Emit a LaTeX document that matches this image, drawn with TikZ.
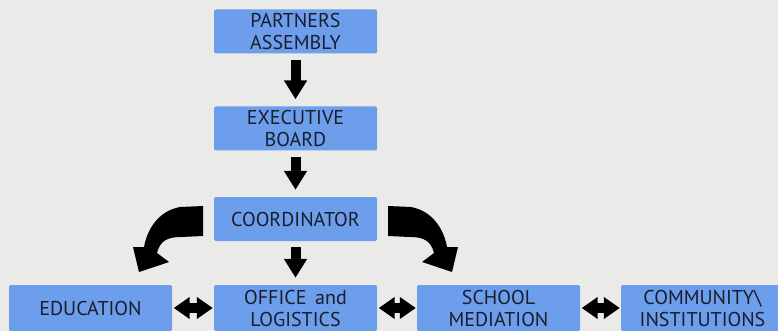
\documentclass[tikz,border=0pt]{standalone}
\usepackage{fontspec}
\setmainfont{PT Sans}
\usetikzlibrary{arrows.meta}
\definecolor{paper}{HTML}{EAEAE8}
\definecolor{boxblue}{HTML}{6D9EEB}
\definecolor{ink}{HTML}{1A1D2E}
\tikzset{
  orgbox/.style={fill=boxblue, rounded corners=1.5pt, minimum width=163pt, minimum height=44pt,
    inner sep=0pt, align=center, text=ink, font=\fontsize{20}{22}\selectfont},
  lowbox/.style={orgbox, minimum height=46pt},
  downarrow/.style={draw=black, line width=10pt, -{Triangle[length=19pt,width=22pt]}, shorten <=6pt, shorten >=7pt},
  curvearrow/.style={fill=black},
  twoway/.style={draw=black, line width=10pt, {Triangle[length=16pt,width=21pt]}-{Triangle[length=16pt,width=21pt]}, shorten <=1.5pt, shorten >=1pt},
  twowaycore/.style={draw=black, line width=10pt, shorten <=12pt, shorten >=12pt}
}
\begin{document}
\begin{tikzpicture}[x=1pt,y=-1pt]
\clip (0,0) rectangle (778,331);
\fill[paper] (0,0) rectangle (778,331);
\node[orgbox] (pa) at (295.5,31.5) {PARTNERS\\ASSEMBLY};
\node[orgbox] (eb) at (295.5,128.5) {EXECUTIVE\\BOARD};
\node[orgbox] (co) at (295.5,219) {COORDINATOR};
\node[lowbox] (ed) at (90.5,308) {EDUCATION};
\node[lowbox] (of) at (295.5,308) {OFFICE\, and\\LOGISTICS};
\node[lowbox] (sm) at (498.5,308) {SCHOOL\\MEDIATION};
\node[lowbox] (ci) at (702.5,308) {COMMUNITY\textbackslash\\INSTITUTIONS};
\draw[downarrow] (pa) -- (eb);
\draw[downarrow] (eb) -- (co);
\draw[downarrow] (co) -- (of);
% curved arrows from the coordinator level down to the side branches
\fill[curvearrow] (388,206) -- (411,207) .. controls (433,211) and (444,230) .. (447,247)
  -- (458,247) -- (452,272) -- (422,262) -- (434,253)
  .. controls (431,241) and (424,237) .. (410,237) -- (388,236) -- cycle;
\fill[curvearrow] (203,206) -- (180,207) .. controls (158,211) and (147,230) .. (144,247)
  -- (133,247) -- (139,272) -- (169,262) -- (157,253)
  .. controls (160,241) and (167,237) .. (181,237) -- (203,236) -- cycle;
\draw[twoway] (ed) -- (of);
\draw[twowaycore] (ed) -- (of);
\draw[twoway] (of) -- (sm);
\draw[twowaycore] (of) -- (sm);
\draw[twoway] (sm) -- (ci);
\draw[twowaycore] (sm) -- (ci);
\end{tikzpicture}
\end{document}
